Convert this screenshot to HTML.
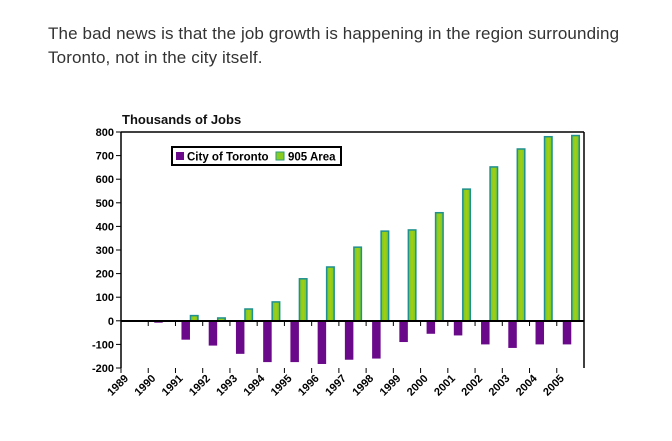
<!DOCTYPE html>
<html><head><style>
body{margin:0;background:#fff;width:672px;height:441px;overflow:hidden;}
.t{position:absolute;left:48px;top:22px;font:17px/24px "Liberation Sans",sans-serif;color:#333;letter-spacing:0.12px;}
</style></head><body>
<div class="t">The bad news is that the job growth is happening in the region surrounding<br>Toronto, not in the city itself.</div>
<svg width="672" height="441" style="position:absolute;left:0;top:0">
<defs><linearGradient id="g" x1="0" x2="1"><stop offset="0" stop-color="#66cc33"/><stop offset="0.5" stop-color="#a8cc10"/><stop offset="1" stop-color="#66cc33"/></linearGradient></defs>
<text x="122" y="124" font-family="Liberation Sans" font-weight="bold" font-size="13" fill="#111">Thousands of Jobs</text>
<g id="bars"></g>
<line x1="121" y1="132" x2="584" y2="132" stroke="#000" stroke-width="1.5"/>
<line x1="584" y1="132" x2="584" y2="368" stroke="#000" stroke-width="1.5"/>
<line x1="121" y1="132" x2="121" y2="368" stroke="#000" stroke-width="1.5"/>
<line x1="121" y1="321" x2="584" y2="321" stroke="#000" stroke-width="2"/>
<g id="ax" font-family="Liberation Sans" font-weight="bold" font-size="11" fill="#000"></g>
<rect x="172" y="147" width="169" height="18" fill="#fff" stroke="#000" stroke-width="2"/>
<rect x="176" y="152" width="8" height="8" fill="#6a0a8a"/>
<text x="187" y="160.5" font-family="Liberation Sans" font-weight="bold" font-size="11.5">City of Toronto</text>
<rect x="276" y="152" width="8" height="8" fill="#88cc22" stroke="#2a9a7a"/>
<text x="288" y="160.5" font-family="Liberation Sans" font-weight="bold" font-size="11.5">905 Area</text>
</svg>
<script>
var T=[0,-8,-80,-105,-140,-175,-175,-183,-165,-160,-90,-55,-62,-100,-115,-100,-100];
var G=[0,-5,22,12,50,80,178,228,312,380,385,458,558,652,728,780,785];
var s=0.236,z=320.8,cw=(584-121)/17,b='',a='';
function y(v){return z-v*s;}
for(var i=0;i<17;i++){
 var x0=121+i*cw;
 if(i>0){
  var v=T[i];b+='<rect x="'+(x0+6)+'" y="'+Math.min(z,y(v))+'" width="8.5" height="'+Math.abs(v*s)+'" fill="#6a0a8a"/>';
  v=G[i];
  if(v>0)b+='<rect x="'+(x0+15)+'" y="'+y(v)+'" width="7.5" height="'+(v*s)+'" fill="url(#g)" stroke="#1f8f8f" stroke-width="1.5"/>';
  else b+='<rect x="'+(x0+14.5)+'" y="'+z+'" width="8.5" height="'+(-v*s)+'" fill="#2a8a6a"/>';
 }
 a+='<line x1="'+x0+'" y1="321" x2="'+x0+'" y2="326" stroke="#000"/><line x1="'+x0+'" y1="368" x2="'+x0+'" y2="373" stroke="#000"/>';
 a+='<text transform="translate('+(x0+8)+',379) rotate(-45)" text-anchor="end">'+(1989+i)+'</text>';
}
for(var v=-200;v<=800;v+=100){a+='<line x1="116" y1="'+y(v)+'" x2="121" y2="'+y(v)+'" stroke="#000"/><text x="114" y="'+(y(v)+4)+'" text-anchor="end">'+v+'</text>';}
document.getElementById('bars').innerHTML=b;document.getElementById('ax').innerHTML=a;
</script>
</body></html>
